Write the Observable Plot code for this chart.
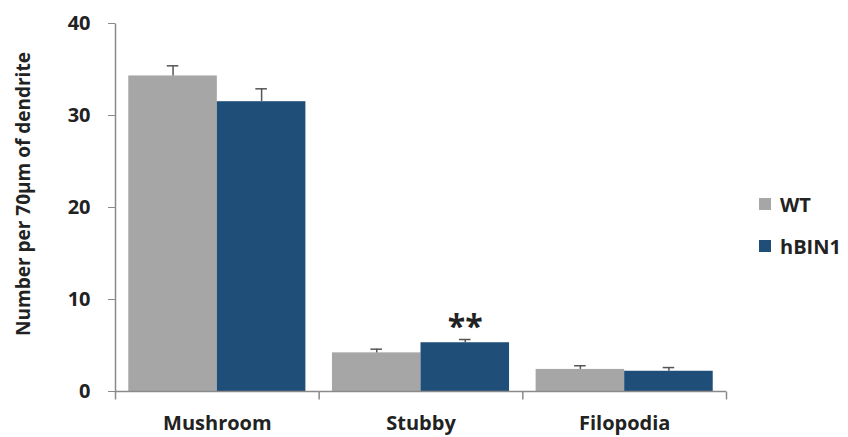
<!DOCTYPE html>
<html><head><meta charset="utf-8">
<script src="https://cdn.jsdelivr.net/npm/d3@7"></script>
<script src="https://cdn.jsdelivr.net/npm/@observablehq/plot@0.6"></script>
<style>
body{margin:0;background:#fff;}
#wrap{position:relative;width:848px;height:437px;font-family:"Open Sans",sans-serif;}
#legend{position:absolute;left:759px;top:192px;}
.row{display:flex;align-items:center;height:24px;margin-bottom:18px;font-weight:bold;font-size:20px;color:#222;}
.sw{width:12px;height:12px;margin-right:9px;}
#ylabel{position:absolute;left:23px;top:194px;transform:translate(-50%,-50%) rotate(-90deg);white-space:nowrap;font-weight:bold;font-size:19px;color:#222;}
</style></head><body><div id="wrap"></div>
<script>
const categories = ["Mushroom", "Stubby", "Filopodia"];
const seriesNames = ["WT", "hBIN1"];
const seriesColors = ["#a6a6a6", "#1f4e79"];
const wtValues = [34.3, 4.2, 2.4];
const wtErrors = [1.1, 0.4, 0.4];
const hbin1Values = [31.5, 5.3, 2.2];
const hbin1Errors = [1.4, 0.35, 0.4];
const yTicks = [0, 10, 20, 30, 40];
const yLabel = "Number per 70µm of dendrite";
const annotations = [{category: "Stubby", series: "hBIN1", text: "**"}];

const rows = [];
categories.forEach((c, i) => {
  rows.push({category: c, series: "WT", value: wtValues[i], error: wtErrors[i]});
  rows.push({category: c, series: "hBIN1", value: hbin1Values[i], error: hbin1Errors[i]});
});
const annRows = annotations.map(a => {
  const r = rows.find(d => d.category === a.category && d.series === a.series);
  return {...a, top: r.value + r.error};
});

const W = 848, H = 437, mL = 115, mR = 122, mT = 23, mB = 46;
const frameH = H - mT - mB;
const axisColor = "#8a8a8a";
const errColor = "#555";
const textColor = "#222";
const tickSymbol = {draw(ctx) { ctx.moveTo(0, 0); ctx.lineTo(0, 8); }};
const axisLineSymbol = {draw(ctx) { ctx.moveTo(0, -frameH); ctx.lineTo(0, 8); }};

const chart = Plot.plot({
  width: W, height: H,
  marginLeft: mL, marginRight: mR, marginTop: mT, marginBottom: mB,
  style: {fontFamily: "Open Sans", background: "white", overflow: "visible"},
  fx: {domain: categories, padding: 0, round: false},
  x: {domain: seriesNames, paddingInner: 0, paddingOuter: 0.15, axis: null, round: false},
  y: {domain: [0, 40]},
  color: {domain: seriesNames, range: seriesColors},
  marks: [
    Plot.barY(rows, {fx: "category", x: "series", y: "value", fill: "series"}),
    Plot.ruleX(rows, {fx: "category", x: "series", y1: "value", y2: d => d.value + d.error, stroke: errColor, strokeWidth: 1.5}),
    Plot.tickY(rows, {fx: "category", x: "series", y: d => d.value + d.error, stroke: errColor, strokeWidth: 1.5, insetLeft: 38.5, insetRight: 38.5}),
    Plot.ruleY([0], {stroke: axisColor, strokeWidth: 1.5}),
    Plot.axisY({ticks: yTicks, tickSize: 7, tickPadding: 18, fontSize: 20, fontWeight: "bold", stroke: axisColor, fill: textColor, label: null}),
    Plot.axisFx({anchor: "bottom", tickSize: 0, tickPadding: 24, fontSize: 20, fontWeight: "bold", fill: textColor, label: null}),
    Plot.dot(categories, {fx: d => d, frameAnchor: "bottom-right", symbol: tickSymbol, stroke: axisColor, fill: "none", strokeWidth: 1.5}),
    Plot.dot([categories[0]], {fx: d => d, frameAnchor: "bottom-left", symbol: axisLineSymbol, stroke: axisColor, fill: "none", strokeWidth: 1.5}),
    Plot.text(annRows, {fx: "category", x: "series", y: "top", text: "text", dy: -2, lineAnchor: "bottom", fontSize: 32, fontWeight: "bold", fill: textColor})
  ]
});
const wrap = document.getElementById("wrap");
wrap.appendChild(chart);
const yl = document.createElement("div");
yl.id = "ylabel";
yl.textContent = yLabel;
wrap.appendChild(yl);
const legend = document.createElement("div");
legend.id = "legend";
seriesNames.forEach((s, i) => {
  const row = document.createElement("div");
  row.className = "row";
  const sw = document.createElement("div");
  sw.className = "sw";
  sw.style.background = seriesColors[i];
  const t = document.createElement("span");
  t.textContent = s;
  row.appendChild(sw); row.appendChild(t);
  legend.appendChild(row);
});
wrap.appendChild(legend);
</script></body></html>
